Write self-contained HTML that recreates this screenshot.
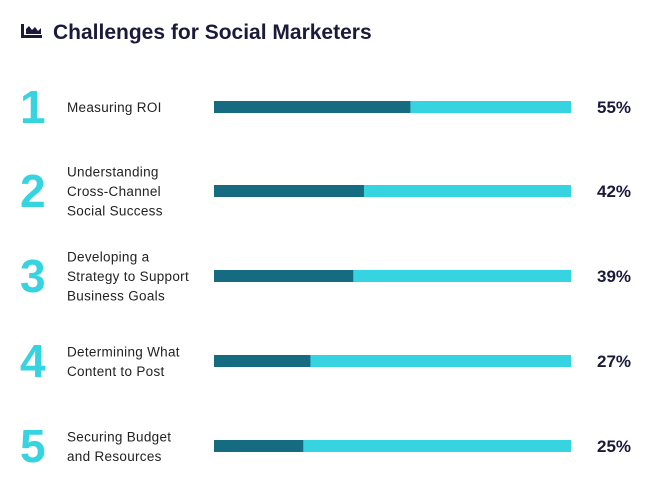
<!DOCTYPE html>
<html><head><meta charset="utf-8"><style>
body{margin:0;background:#fff;width:660px;height:491px;overflow:hidden;font-family:"Liberation Sans",sans-serif}
svg{display:block}
</style></head><body>
<svg id="chart" width="660" height="491">
  <g fill="#1a1a3a">
    <rect x="21" y="24" width="3" height="14"/>
    <rect x="21" y="35" width="21" height="3"/>
    <path d="M26 34 L26 29 L29 26 L32 30 L35 27 L38 31 L41 28 L41 34 Z"/>
  </g>
  <text x="53" y="39" font-size="21" font-weight="bold" fill="#1a1a3a">Challenges for Social Marketers</text>
  <g id="rows"></g>
</svg>
<script>
const ranks = ["1","2","3","4","5"];
const labels = [["Measuring ROI"],["Understanding","Cross-Channel","Social Success"],["Developing a","Strategy to Support","Business Goals"],["Determining What","Content to Post"],["Securing Budget","and Resources"]];
const values = [55,42,39,27,25];
const rowCenters = [107,191,276,361,446];
const x0 = 214, x1 = 571;
const xScale = v => x0 + (x1 - x0) * v / 100;
const NS = "http://www.w3.org/2000/svg";
const g = document.getElementById("rows");
function mk(tag, attrs){const e=document.createElementNS(NS,tag);for(const k in attrs)e.setAttribute(k,attrs[k]);return e;}
values.forEach((v,i)=>{
  const cy = rowCenters[i];
  const n = mk("text",{x:20,y:cy+16,"font-size":"46","font-weight":"bold",fill:"#36d3e0"});
  n.textContent = ranks[i];
  
  
  g.appendChild(n);
  const L = labels[i];
  const t = mk("text",{x:67,"font-size":"13.5","letter-spacing":"0.3",fill:"#222"});
  
  
  L.forEach((line,j)=>{
    const s = mk("tspan",{x:67,y:cy+5+(j-(L.length-1)/2)*19.5});
    s.textContent=line; t.appendChild(s);
  });
  g.appendChild(t);
  const bg = mk("rect",{x:x0,y:cy-6,width:x1-x0,height:12,fill:"#36d3e0"});
  
  
  g.appendChild(bg);
  const b = mk("rect",{x:x0,y:cy-6,width:xScale(v)-x0,height:12,fill:"#156b80"});
  
  
  g.appendChild(b);
  const p = mk("text",{x:597,y:cy+6,"font-size":"17","font-weight":"bold",fill:"#1a1a3a"});
  p.textContent = v+"%";
  
  
  g.appendChild(p);
});
</script>
</body></html>
